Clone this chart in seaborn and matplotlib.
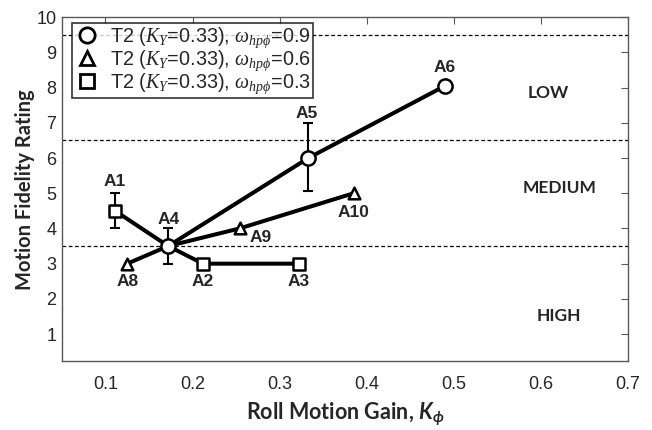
import matplotlib
matplotlib.use("Agg")
import matplotlib.pyplot as plt
from matplotlib.lines import Line2D
import seaborn as sns
import pandas as pd

# Roll motion gain and fidelity ratings per configuration
series_names = ["w09", "w06", "w03"]
legend_labels = [
    r"T2 ($K_Y$=0.33), $\omega_{hp\phi}$=0.9",
    r"T2 ($K_Y$=0.33), $\omega_{hp\phi}$=0.6",
    r"T2 ($K_Y$=0.33), $\omega_{hp\phi}$=0.3",
]
gain_w09 = [0.172, 0.333, 0.49]
rating_w09 = [3.5, 6.0, 8.05]
cfg_w09 = ["A4", "A5", "A6"]

gain_w06 = [0.125, 0.172, 0.254, 0.385]
rating_w06 = [3.0, 3.5, 4.0, 5.0]
cfg_w06 = ["A8", "A4", "A9", "A10"]

gain_w03 = [0.111, 0.172, 0.212, 0.322]
rating_w03 = [4.5, 3.5, 3.0, 3.0]
cfg_w03 = ["A1", "A4", "A2", "A3"]

# Rating spread (min, max) for configurations with error bars
err_cfg = ["A1", "A4", "A5"]
err_low = [4.0, 3.0, 5.05]
err_high = [5.0, 4.0, 7.0]

# Fidelity region boundaries and names
boundaries = [3.5, 6.5, 9.5]
regions = ["LOW", "MEDIUM", "HIGH"]
region_y = [7.85, 5.15, 1.5]
region_x = [0.609, 0.622, 0.621]

xticks = [0.1, 0.2, 0.3, 0.4, 0.5, 0.6, 0.7]
yticks = list(range(1, 11))

rows = []
for name, gx, ry, cf in [("w09", gain_w09, rating_w09, cfg_w09),
                         ("w06", gain_w06, rating_w06, cfg_w06),
                         ("w03", gain_w03, rating_w03, cfg_w03)]:
    for order, (g, r, c) in enumerate(zip(gx, ry, cf)):
        rows.append({"series": name, "gain": g, "rating": r, "cfg": c, "order": order})
df = pd.DataFrame(rows)
# shared A4 point is marked once, by the circle series
df["marked"] = ~((df["cfg"] == "A4") & (df["series"] != "w09"))

sns.set_theme(style="white")
plt.rcParams["font.family"] = ["Liberation Sans", "DejaVu Sans"]
plt.rcParams["mathtext.fontset"] = "custom"
plt.rcParams["mathtext.it"] = "Liberation Serif:italic"
plt.rcParams["mathtext.rm"] = "Liberation Sans"
plt.rcParams["mathtext.bf"] = "Lato:bold:italic"

fig = plt.figure(figsize=(6.52, 4.30), dpi=100)
ax = fig.add_axes([0.095, 0.160, 0.868, 0.800])

for b in boundaries:
    ax.axhline(b, color="black", lw=0.9, ls=(0, (3, 2)), zorder=1)

palette = {n: "black" for n in series_names}
sns.lineplot(data=df, x="gain", y="rating", hue="series", units="series",
             estimator=None, sort=False, palette=palette, lw=2.9,
             legend=False, ax=ax, zorder=2)

# error bars
pts = df[df["series"] == "w09"].set_index("cfg")
pts = pd.concat([pts, df[df["cfg"] == "A1"].set_index("cfg")])
for c, lo, hi in zip(err_cfg, err_low, err_high):
    g = pts.loc[c, "gain"]
    ax.errorbar([g], [(lo + hi) / 2], yerr=[[(hi - lo) / 2], [(hi - lo) / 2]],
                fmt="none", ecolor="black", elinewidth=1.5, capsize=3.6,
                capthick=1.5, zorder=3)

markers = {"w09": "o", "w06": "^", "w03": "s"}
sizes = {"w09": 105, "w06": 70, "w03": 68}
for n in series_names:
    sub = df[(df["series"] == n) & df["marked"]]
    sns.scatterplot(data=sub, x="gain", y="rating", marker=markers[n],
                    s=sizes[n], color="white", edgecolor="black",
                    linewidth=1.8, ax=ax, zorder=4, legend=False)

# configuration labels
label_offsets = {
    "A1": (0, 29), "A4": (0, 27), "A5": (-2, 45), "A6": (0, 18),
    "A8": (0, -18), "A2": (0, -18), "A3": (0, -18),
    "A9": (21, -9), "A10": (0, -19),
}
seen = set()
for _, r in df.iterrows():
    if r["cfg"] in seen:
        continue
    seen.add(r["cfg"])
    dx, dy = label_offsets[r["cfg"]]
    ax.annotate(r["cfg"], (r["gain"], r["rating"]), xytext=(dx, dy),
                textcoords="offset pixels", ha="center", va="center",
                fontsize=12.5, fontweight="bold", zorder=5)

for name, xr, yr in zip(regions, region_x, region_y):
    ax.text(xr, yr, name, ha="center", va="center", fontsize=12.5,
            fontweight="bold", family="Lato")

ax.set_xlim(0.05, 0.7)
ax.set_ylim(0.23, 10)
ax.set_xticks(xticks)
ax.set_xticklabels([f"{t:.1f}" for t in xticks])
ax.set_yticks(yticks)
ax.tick_params(direction="in", length=5, width=0.8, color="0.35",
               top=True, right=True, labelsize=13)
ax.tick_params(axis="x", pad=11)
ax.tick_params(axis="y", pad=4)
for s in ax.spines.values():
    s.set_color("0.35")
    s.set_linewidth(1.0)

ax.set_xlabel(r"Roll Motion Gain, $\mathbf{K_{\phi}}$", fontsize=15.5,
              fontweight="bold", family="Lato", labelpad=5)
ax.set_ylabel("Motion Fidelity Rating", fontsize=14.5, fontweight="bold",
              family="Lato", labelpad=1)

handles = [Line2D([], [], ls="none", marker=markers[n], ms=ms, mfc="white",
                  mec="black", mew=2.0)
           for n, ms in zip(series_names, [11, 10, 9.5])]
leg = ax.legend(handles, legend_labels, loc="upper left",
                bbox_to_anchor=(0.0177, 0.9826), borderaxespad=0,
                fontsize=14.3, frameon=True, fancybox=False,
                edgecolor="black", borderpad=0.12, labelspacing=-0.08,
                handletextpad=0.5, handlelength=1.3)
leg.get_frame().set_linewidth(1.2)
leg.set_zorder(6)

fig.savefig("out.png", dpi=100)
